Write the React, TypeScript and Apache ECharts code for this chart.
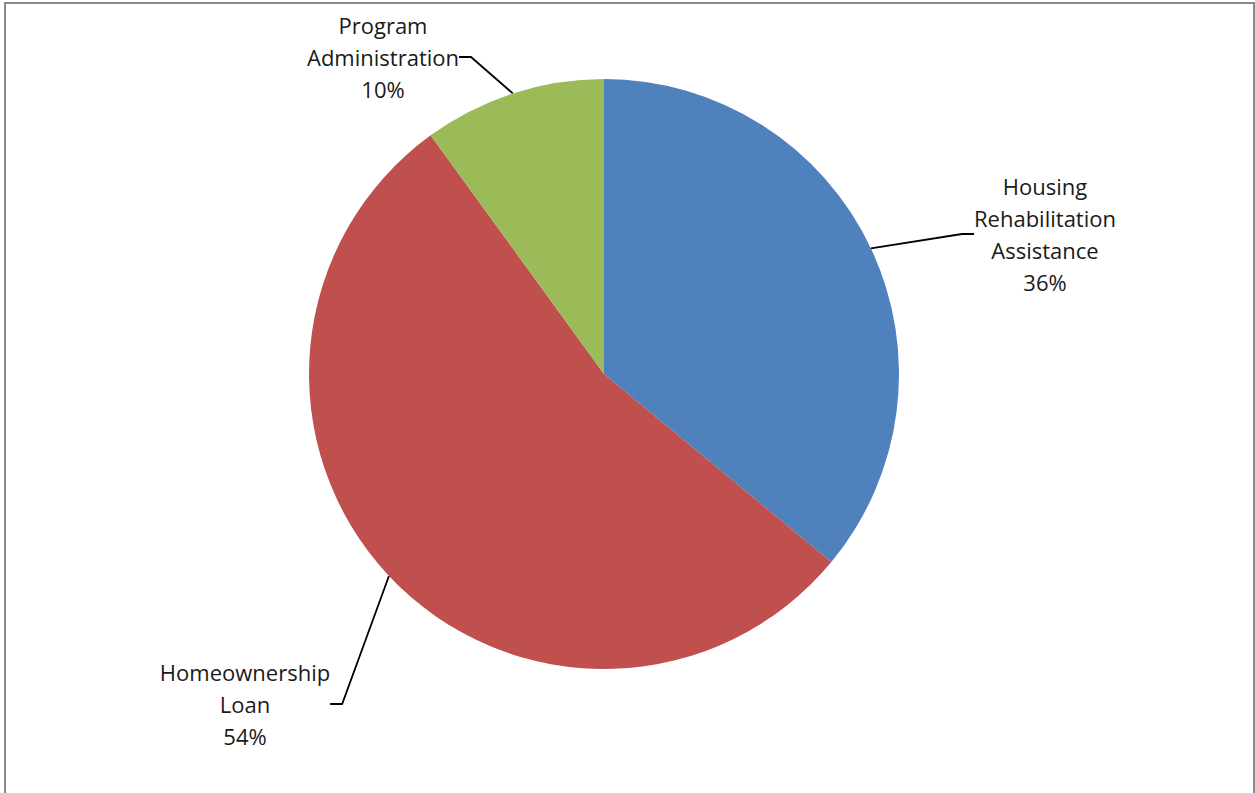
import React, { useEffect, useRef } from "react";
import * as echarts from "echarts";

const categories = [
  "Housing\nRehabilitation\nAssistance",
  "Homeownership\nLoan",
  "Program\nAdministration",
];
const values = [36, 54, 10];
const colors = ["#4F81BD", "#C0504D", "#9BBB59"];
// label anchor centres (layout only)
const labelCenters = [
  [1045, 234],
  [245, 704],
  [383, 57],
];

export default function App() {
  const ref = useRef<HTMLDivElement>(null);
  useEffect(() => {
    if (!ref.current) return;
    const chart = echarts.init(ref.current, null, { renderer: "svg" });
    chart.setOption({
      animation: false,
      backgroundColor: "#ffffff",
      graphic: [
        {
          type: "rect",
          shape: { x: 5, y: 3, width: 1249, height: 820 },
          style: { fill: "none", stroke: "#8a8a8a", lineWidth: 2 },
          silent: true,
        },
      ],
      series: [
        {
          type: "pie",
          center: [604, 374],
          radius: 295,
          startAngle: 90,
          clockwise: true,
          data: categories.map((c, i) => ({
            name: c,
            value: values[i],
            itemStyle: { color: colors[i] },
          })),
          itemStyle: { borderColor: "#ffffff", borderWidth: 0 },
          label: {
            show: true,
            position: "outside",
            formatter: (p: any) => `${p.name}\n${Math.round(p.percent)}%`,
            fontFamily: "'Open Sans', sans-serif",
            fontSize: 22,
            lineHeight: 32,
            color: "#1a1a1a",
            align: "center",
          },
          labelLine: {
            show: true,
            length: 20,
            length2: 12,
            lineStyle: { color: "#000000", width: 1.8 },
          },
          labelLayout: (params: any) => {
            const c = labelCenters[params.dataIndex];
            return {
              x: c[0],
              y: c[1],
              align: "center",
              verticalAlign: "middle",
            };
          },
        },
      ],
    });
    return () => chart.dispose();
  }, []);
  return (
    <div
      ref={ref}
      style={{ position: "fixed", left: 0, top: 0, width: 1255, height: 793 }}
    />
  );
}
